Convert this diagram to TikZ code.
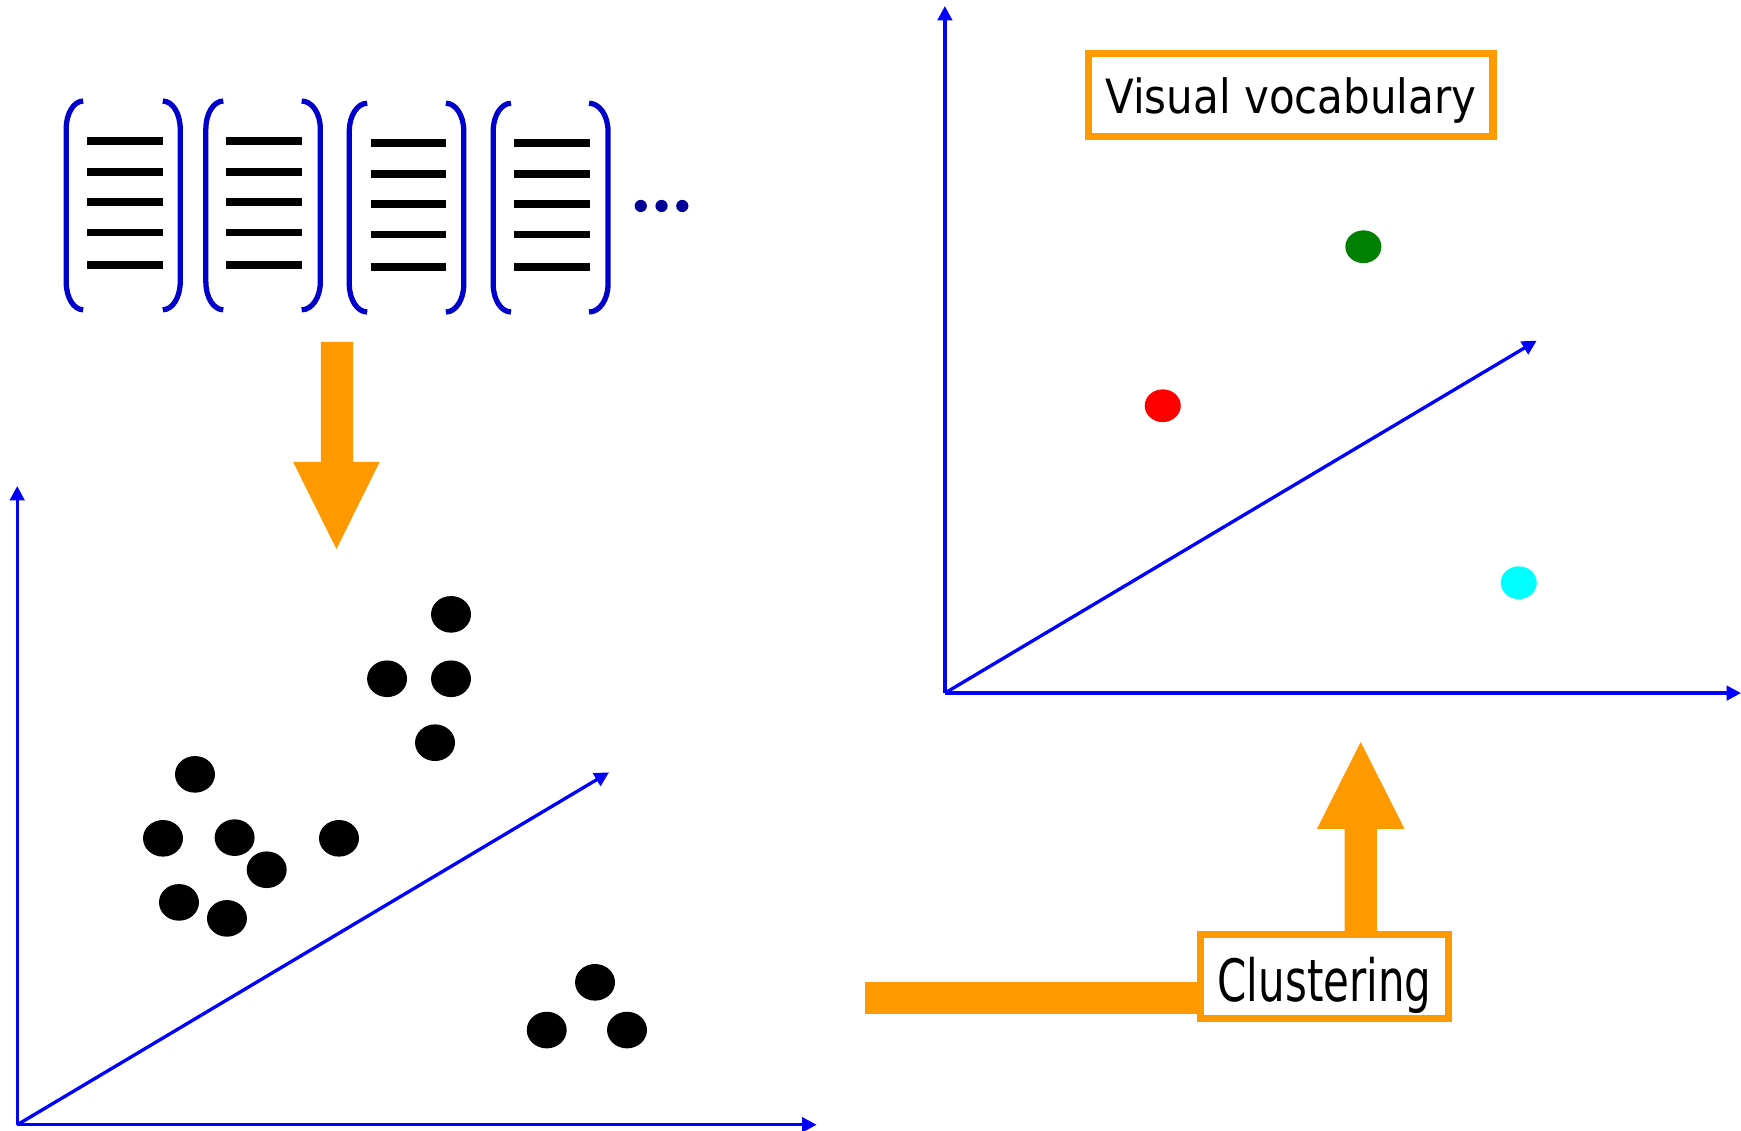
\documentclass[tikz,border=0pt]{standalone}
\usepackage{graphicx}
\usepackage{fontspec}
\setmainfont{DejaVu Sans}
\usetikzlibrary{arrows.meta,shapes.geometric}
\definecolor{axblue}{RGB}{0,0,255}
\definecolor{brblue}{RGB}{0,0,204}
\definecolor{dotnavy}{RGB}{0,0,153}
\definecolor{orng}{RGB}{255,153,0}
\definecolor{dgreen}{RGB}{0,128,0}
\definecolor{ccyan}{RGB}{0,255,255}
\definecolor{cred}{RGB}{255,0,0}
\begin{document}
\begin{tikzpicture}[x=0.02cm,y=-0.02cm,
  axis/.style={draw=axblue, line width=0.6mm, -{Triangle[width=2.6mm,length=2.6mm]}},
  brk/.style={draw=brblue, line width=0.95mm},
  tline/.style={draw=black, line width=1.4mm},
  bdot/.style={ellipse, fill=black, minimum width=7.2mm, minimum height=6.6mm, inner sep=0pt},
  cdot/.style={ellipse, minimum width=6.5mm, minimum height=5.9mm, inner sep=0pt},
  ndot/.style={circle, fill=dotnavy, minimum size=2.2mm, inner sep=0pt},
  obox/.style={draw=orng, line width=1.3mm, fill=white, inner sep=0pt, align=center}]
\useasboundingbox (0,0) rectangle (1568,1018);

% feature vectors
\foreach \vx/\hx/\t/\b in {59.6/74.9/91/279, 162.3/146.6/91/279, 185.4/201.1/91/279, 288.5/271.7/91/279,
  314.6/330.7/93/281, 417.7/401.6/93/281, 444.2/460.2/93/281, 547.6/530.5/93/281}
  \draw[brk] (\hx,\t) .. controls ({\hx+0.55*(\vx-\hx)},\t) and (\vx,\t+11) .. (\vx,\t+25)
    -- (\vx,\b-25) .. controls (\vx,\b-11) and ({\hx+0.55*(\vx-\hx)},\b) .. (\hx,\b);
\foreach \xa/\xb/\yo in {78.6/146.6/0, 203.7/272.1/0, 333.7/401.6/1.8, 463.2/531.5/1.8}
  \foreach \yy in {127,154.6,181.9,209.3,239}
    \draw[tline] (\xa,\yy+\yo) -- (\xb,\yy+\yo);
\node[ndot] (d1) at (577.1,185.5) {};
\node[ndot] (d2) at (595.8,185.5) {};
\node[ndot] (d3) at (614.5,185.5) {};

% down arrow
\fill[orng] (289,308) -- (318,308) -- (318,416) -- (342,416) -- (303,494.5) -- (264,416) -- (289,416) -- cycle;

% left axes
\coordinate (Lo) at (15.5,1013);
\coordinate (Ly) at (15.5,437.7);
\coordinate (Lx) at (735.5,1013);
\coordinate (Ld) at (548.5,695.6);
\draw[axis] (Lo) -- (Ly);
\draw[axis] (Lo) -- (Lx);
\draw[axis] (Lo) -- (Ld);

% black points
\node[bdot] (b1) at (406.2,553.3) {};
\node[bdot] (b2) at (348.6,611.3) {};
\node[bdot] (b3) at (406.2,611.3) {};
\node[bdot] (b4) at (391.8,668.9) {};
\node[bdot] (b5) at (175.6,697.4) {};
\node[bdot] (b6) at (146.8,755) {};
\node[bdot] (b7) at (211.3,754.4) {};
\node[bdot] (b8) at (240.2,783.3) {};
\node[bdot] (b9) at (305.3,755) {};
\node[bdot] (b10) at (161.2,812.7) {};
\node[bdot] (b11) at (204.4,827.1) {};
\node[bdot] (b12) at (535.9,884.7) {};
\node[bdot] (b13) at (492.4,927.7) {};
\node[bdot] (b14) at (564.7,927.7) {};

% right axes
\coordinate (Ro) at (851,624.2);
\coordinate (Ry) at (851,5.4);
\coordinate (Rx) at (1568,624.2);
\coordinate (Rd) at (1384,306.8);
\draw[axis] (Ro) -- (Ry);
\draw[axis] (Ro) -- (Rx);
\draw[axis] (Ro) -- (Rd);

% cluster centres
\node[cdot, fill=dgreen] (cg) at (1227.9,222.2) {};
\node[cdot, fill=cred] (cr) at (1047.2,365.4) {};
\node[cdot, fill=ccyan] (cc) at (1367.8,524.8) {};

% clustering bar and up arrow
\fill[orng] (778.7,884) rectangle (1082,913);
\fill[orng] (1211,841) -- (1211,746.6) -- (1186,746.6) -- (1225.5,668.3) -- (1265,746.6) -- (1240,746.6) -- (1240,841) -- cycle;

% boxes
\node[obox, minimum width=72.84mm, minimum height=14.92mm, text height=8.6mm, text depth=2mm]
  (vocab) at (1162.6,85.5) {\fontsize{24.2}{29}\selectfont\scalebox{0.89}[1]{Visual vocabulary}};
\node[obox, minimum width=44.56mm, minimum height=15.12mm, text height=11.12mm, text depth=2mm]
  (clus) at (1192.9,879.2) {\fontsize{29.9}{36}\selectfont\scalebox{0.72}[1]{Clustering}};
\end{tikzpicture}
\end{document}
